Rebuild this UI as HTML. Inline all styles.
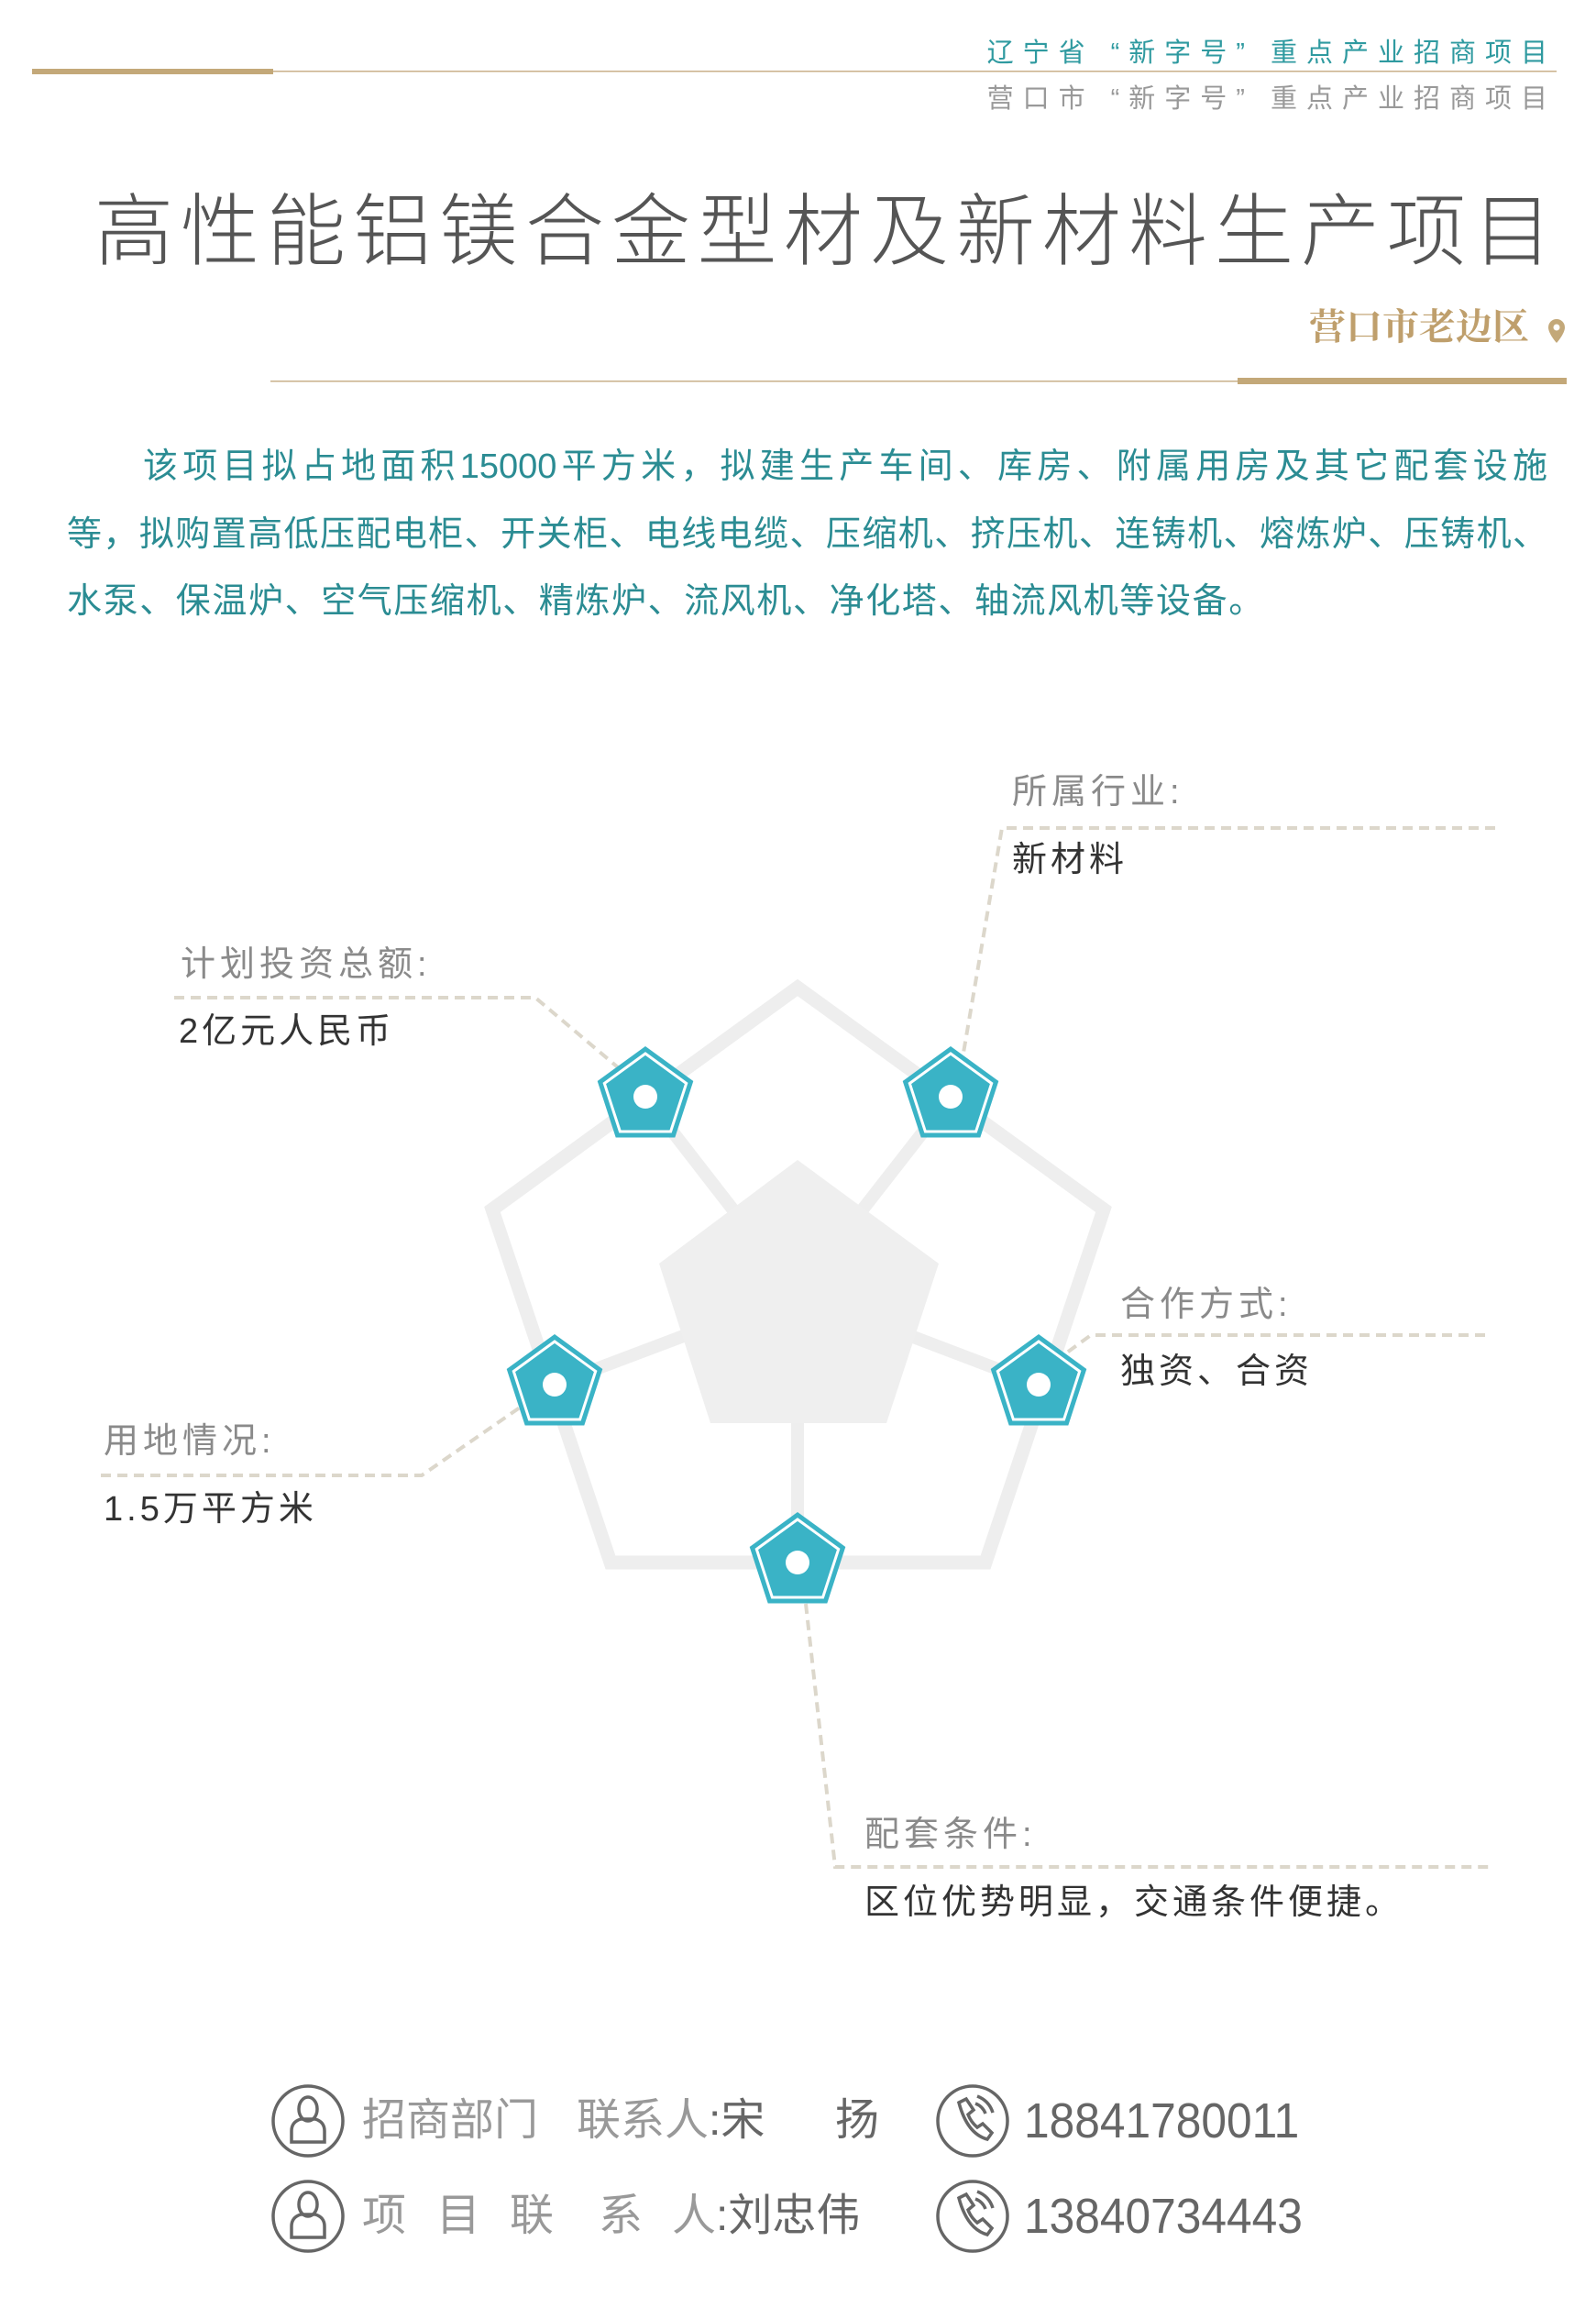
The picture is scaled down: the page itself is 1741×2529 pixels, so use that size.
<!DOCTYPE html>
<html><head><meta charset="utf-8">
<style>
html,body{margin:0;padding:0;background:#fff;}
body{width:1741px;height:2529px;position:relative;overflow:hidden;font-family:"Liberation Sans","Noto Sans CJK SC",sans-serif;}
.a{position:absolute;white-space:nowrap;}
.hdr{right:43px;font-size:29px;letter-spacing:10px;line-height:1;}
.para{left:73px;width:1615px;font-size:38px;color:#2b8c93;line-height:1;text-align:justify;text-align-last:justify;}
.lab{font-size:38px;color:#8a8a8a;line-height:1;letter-spacing:5px;}
.val{font-size:38px;color:#333;line-height:1;letter-spacing:4px;}
.ft{font-size:48px;color:#666;line-height:1;}
.g{color:#999;}
</style></head><body>
<svg class="a" style="left:0;top:0" width="1741" height="2529" viewBox="0 0 1741 2529">
  <rect x="35" y="75" width="263" height="6" fill="#c3a879"/>
  <rect x="298" y="77" width="1400" height="1.5" fill="#c9b08a"/>
  <rect x="295" y="415" width="1055" height="1.5" fill="#c9b08a"/>
  <rect x="1350" y="412" width="359" height="7" fill="#c3a879"/>
  <path d="M1698 348 a9 9 0 0 1 9 9 c0 7 -9 17 -9 17 c0 0 -9 -10 -9 -17 a9 9 0 0 1 9 -9z" fill="#c3a879"/>
  <circle cx="1698" cy="357" r="3.5" fill="#fff"/>
  <g fill="none" stroke="#dcd7cb" stroke-width="4" stroke-dasharray="11 7">
    <polyline points="190,1088 584,1088 674,1164"/>
    <polyline points="1631,903 1093,903 1051,1148"/>
    <polyline points="1620,1456 1190,1456 1164,1475"/>
    <polyline points="110,1609 460,1609 567,1535"/>
    <polyline points="879,1749 911,2036 1625,2036"/>
  </g>
  <polygon points="870,1077 1204,1319 1075,1704 666,1704 537,1319" fill="none" stroke="#eeeeee" stroke-width="15"/>
  <g stroke="#eeeeee" stroke-width="14">
    <line x1="870" y1="1410" x2="704" y2="1196"/>
    <line x1="870" y1="1410" x2="1037" y2="1196"/>
    <line x1="870" y1="1410" x2="605" y2="1510"/>
    <line x1="870" y1="1410" x2="1133" y2="1510"/>
    <line x1="870" y1="1410" x2="870" y2="1704"/>
  </g>
  <polygon points="870,1265 1024,1378 967,1552 775,1552 719,1378" fill="#efefef"/>
  <defs>
    <g id="nd">
      <polygon points="0,-55 52.3,-17 32.3,44.5 -32.3,44.5 -52.3,-17" fill="#3ab3c6"/>
      <polygon points="0,-47 44.7,-14.5 27.6,38 -27.6,38 -44.7,-14.5" fill="none" stroke="#fff" stroke-width="3"/>
      <circle cx="0" cy="0" r="13" fill="#fff"/>
    </g>
  </defs>
  <use href="#nd" x="704" y="1196"/>
  <use href="#nd" x="1037" y="1196"/>
  <use href="#nd" x="605" y="1510"/>
  <use href="#nd" x="1133" y="1510"/>
  <use href="#nd" x="870" y="1704"/>
  <g fill="none" stroke="#666" stroke-width="3.5">
    <circle cx="336" cy="2313" r="38"/>
    <circle cx="336" cy="2417" r="38"/>
    <circle cx="1061" cy="2313" r="38"/>
    <circle cx="1061" cy="2417" r="38"/>
    <ellipse cx="336" cy="2300" rx="10" ry="13"/>
    <path d="M318 2336 v-12 q0 -10 10 -13 h16 q10 3 10 13 v12 z"/>
    <g transform="translate(0,104)">
      <ellipse cx="336" cy="2300" rx="10" ry="13"/>
      <path d="M318 2336 v-12 q0 -10 10 -13 h16 q10 3 10 13 v12 z"/>
    </g>
    <path d="M1046 2293 l8 -4 l8 12 l-6 5 q3 8 10 14 l6 -4 l10 10 l-5 7 q-22 -6 -31 -40 z"/>
    <path d="M1064 2294 q8 3 11 11 M1066 2286 q13 5 17 18"/>
    <g transform="translate(0,104)">
      <path d="M1046 2293 l8 -4 l8 12 l-6 5 q3 8 10 14 l6 -4 l10 10 l-5 7 q-22 -6 -31 -40 z"/>
      <path d="M1064 2294 q8 3 11 11 M1066 2286 q13 5 17 18"/>
    </g>
  </g>
</svg>

<div class="a hdr" style="top:44px;color:#2f9aa0;">辽宁省 “新字号” 重点产业招商项目</div>
<div class="a hdr" style="top:94px;color:#999;">营口市 “新字号” 重点产业招商项目</div>

<div class="a" style="left:103px;top:210px;font-size:86px;letter-spacing:8px;color:#555;line-height:1;font-weight:300;">高性能铝镁合金型材及新材料生产项目</div>
<div class="a" style="right:73px;top:337px;font-size:40px;color:#bf9f6c;font-family:'Liberation Serif','Noto Serif CJK SC',serif;font-weight:bold;line-height:1;">营口市老边区</div>

<div class="a para" style="top:490px;left:156px;width:1532px;">该项目拟占地面积15000平方米，拟建生产车间、库房、附属用房及其它配套设施</div>
<div class="a para" style="top:564px;">等，拟购置高低压配电柜、开关柜、电线电缆、压缩机、挤压机、连铸机、熔炼炉、压铸机、</div>
<div class="a para" style="top:637px;text-align-last:left;letter-spacing:1.6px;">水泵、保温炉、空气压缩机、精炼炉、流风机、净化塔、轴流风机等设备。</div>

<div class="a lab" style="left:197px;top:1033px;">计划投资总额:</div>
<div class="a val" style="left:195px;top:1106px;">2亿元人民币</div>
<div class="a lab" style="left:1104px;top:845px;">所属行业:</div>
<div class="a val" style="left:1104px;top:919px;">新材料</div>
<div class="a lab" style="left:1222px;top:1404px;">合作方式:</div>
<div class="a val" style="left:1222px;top:1477px;">独资、合资</div>
<div class="a lab" style="left:113px;top:1553px;">用地情况:</div>
<div class="a val" style="left:113px;top:1627px;">1.5万平方米</div>
<div class="a lab" style="left:943px;top:1982px;">配套条件:</div>
<div class="a val" style="left:943px;top:2056px;">区位优势明显，交通条件便捷。</div>

<div class="a ft g" style="left:395px;top:2289px;">招商部门</div>
<div class="a ft" style="left:629px;top:2289px;"><span class="g">联系人</span>:宋</div>
<div class="a ft" style="left:911px;top:2289px;">扬</div>
<div class="a ft g" style="left:395px;top:2393px;">项</div>
<div class="a ft g" style="left:476px;top:2393px;">目</div>
<div class="a ft g" style="left:556px;top:2393px;">联</div>
<div class="a ft g" style="left:653px;top:2393px;">系</div>
<div class="a ft" style="left:733px;top:2393px;"><span class="g">人</span>:刘忠伟</div>
<div class="a ft" style="left:1117px;top:2286px;font-size:54px;transform:scaleX(0.92);transform-origin:0 0;">18841780011</div>
<div class="a ft" style="left:1117px;top:2390px;font-size:54px;transform:scaleX(0.92);transform-origin:0 0;">13840734443</div>
</body></html>
